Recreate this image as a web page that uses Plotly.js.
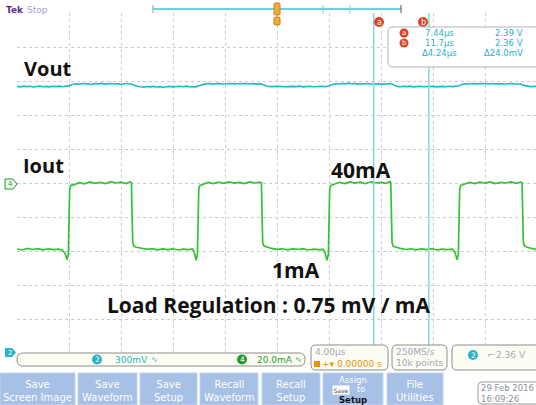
<!DOCTYPE html>
<html><head><meta charset="utf-8">
<script src="https://cdn.plot.ly/plotly-3.0.1.min.js"></script>
<style>html,body{margin:0;padding:0;background:#fff;overflow:hidden}#chart{width:536px;height:405px}</style>
</head><body><div id="chart"></div>
<script>
// ---- Data (read from the scope capture) ----
// Channel 2 : Vout (V), time in microseconds
const voutTime = [
-20,-19.75,-19.5,-19.25,-19,-18.75,-18.5,-18.25,-18,-17.75,-17.5,-17.25,-17,-16.75,-16.5,-16.25,
-16,-15.75,-15.5,-15.25,-15,-14.75,-14.5,-14.25,-14,-13.75,-13.5,-13.25,-13,-12.75,-12.5,-12.25,
-12,-11.75,-11.5,-11.25,-11,-10.75,-10.5,-10.25,-10,-9.75,-9.5,-9.25,-9,-8.75,-8.5,-8.25,
-8,-7.75,-7.5,-7.25,-7,-6.75,-6.5,-6.25,-6,-5.75,-5.5,-5.25,-5,-4.75,-4.5,-4.25,
-4,-3.75,-3.5,-3.25,-3,-2.75,-2.5,-2.25,-2,-1.75,-1.5,-1.25,-1,-0.75,-0.5,-0.25,
0,0.25,0.5,0.75,1,1.25,1.5,1.75,2,2.25,2.5,2.75,3,3.25,3.5,3.75,
4,4.25,4.5,4.75,5,5.25,5.5,5.75,6,6.25,6.5,6.75,7,7.25,7.5,7.75,
8,8.25,8.5,8.75,9,9.25,9.5,9.75,10,10.25,10.5,10.75,11,11.25,11.5,11.75,
12,12.25,12.5,12.75,13,13.25,13.5,13.75,14,14.25,14.5,14.75,15,15.25,15.5,15.75,
16,16.25,16.5,16.75,17,17.25,17.5,17.75,18,18.25,18.5,18.75,19,19.25,19.5,19.75,19.92];
const voutVolts = [
2.361,2.357,2.363,2.359,2.362,2.356,2.360,2.364,2.358,2.361,2.357,2.362,2.359,2.363,2.358,2.362,
2.368,2.378,2.384,2.381,2.387,2.382,2.385,2.380,2.386,2.383,2.388,2.381,2.384,2.386,2.382,2.385,
2.380,2.384,2.387,2.383,2.372,2.362,2.358,2.355,2.360,2.357,2.361,2.356,2.359,2.354,2.358,2.361,
2.357,2.360,2.362,2.358,2.363,2.359,2.361,2.357,2.366,2.377,2.383,2.386,2.381,2.385,2.388,2.382,
2.384,2.380,2.386,2.383,2.385,2.381,2.387,2.384,2.382,2.386,2.383,2.385,2.373,2.363,2.359,2.361,
2.357,2.362,2.358,2.360,2.356,2.361,2.359,2.363,2.357,2.360,2.362,2.358,2.361,2.359,2.362,2.358,
2.365,2.378,2.385,2.382,2.387,2.383,2.390,2.384,2.386,2.381,2.385,2.383,2.387,2.382,2.386,2.384,
2.381,2.385,2.383,2.386,2.371,2.361,2.358,2.362,2.359,2.363,2.357,2.360,2.362,2.358,2.361,2.359,
2.363,2.357,2.360,2.361,2.358,2.362,2.359,2.361,2.367,2.379,2.384,2.382,2.386,2.383,2.385,2.381,
2.387,2.384,2.382,2.386,2.383,2.385,2.380,2.384,2.387,2.383,2.385,2.382,2.370,2.362,2.359,2.361,2.360];
// Channel 4 : Iout (mA)
const ioutTime = [
-20,-19.6,-19.2,-18.8,-18.4,-18,-17.6,-17.2,-16.8,-16.5,-16.3,-16.15,-16.05,-15.95,-15.88,
-15.6,-15.2,-14.8,-14.4,-14,-13.6,-13.2,-12.8,-12.4,-12,-11.6,-11.3,-11.2,-11.1,-11,-10.8,
-10.4,-10,-9.6,-9.2,-8.8,-8.4,-8,-7.6,-7.2,-6.8,-6.5,-6.35,-6.22,-6.12,-6.02,-5.95,
-5.7,-5.3,-4.9,-4.5,-4.1,-3.7,-3.3,-2.9,-2.5,-2.1,-1.7,-1.3,-1.2,-1.1,-1,-0.8,
-0.4,0,0.4,0.8,1.2,1.6,2,2.4,2.8,3.2,3.55,3.7,3.85,3.95,4.05,4.12,
4.4,4.8,5.2,5.6,6,6.4,6.8,7.2,7.6,8,8.4,8.7,8.75,8.85,8.95,9.15,
9.5,9.9,10.3,10.7,11.1,11.5,11.9,12.3,12.7,13.1,13.5,13.7,13.85,13.95,14.05,14.12,
14.4,14.8,15.2,15.6,16,16.4,16.8,17.2,17.6,18,18.4,18.75,18.85,18.95,19.05,19.25,19.6,19.92];
const ioutMilliamps = [
1.2,0.6,1.5,0.9,1.4,0.7,1.3,0.8,1.1,0.5,-1.5,-5.0,-2.0,36,38.5,
39.0,40.2,39.5,40.6,39.8,40.4,39.6,40.8,40.0,40.5,39.7,40.6,40.2,5,2.8,2.2,
1.6,1.0,1.4,0.7,1.2,0.8,1.3,0.6,1.1,0.8,1.2,-1.0,-5.5,-2.0,36,38.5,
39.2,40.3,39.6,40.5,39.8,40.7,39.9,40.4,39.7,40.6,40.0,40.5,40.1,5,2.9,2.3,
1.5,1.0,1.3,0.7,1.2,0.9,1.4,0.6,1.1,0.8,1.0,-1.2,-5.5,-2.0,36,38.5,
39.3,40.4,39.7,40.6,39.9,40.5,39.6,40.7,40.0,40.4,39.8,40.8,40.3,5,2.8,2.2,
1.5,0.9,1.3,0.7,1.2,0.8,1.4,0.6,1.1,0.8,1.1,-1.0,-5.2,-2.0,36,38.5,
39.2,40.3,39.6,40.5,39.9,40.6,39.7,40.4,40.0,40.6,39.8,40.5,40.1,5,2.9,2.2,1.5,1.0];
// Cursors a / b (time, us) and their readouts
const cursorNames = ['a','b'];
const cursorTimes = [7.44, 11.68];
const cursorTimeText = ['7.44µs','11.7µs','Δ4.24µs'];
const cursorVoltText = ['2.39 V','2.36 V','Δ24.0mV'];
const buttonLabels = ['Save<br>Screen Image','Save<br>Waveform','Save<br>Setup','Recall<br>Waveform','Recall<br>Setup','','File<br>Utilities'];

// ---- Geometry ----
const W=536,H=405,L=17,R=0,T=13,B=52;
const PW=W-L-R, PH=H-T-B;
const X = p => (p-L)/PW;
const Y = p => (H-B-p)/PH;
const pxPerUs = 13;

const CY='#27b4c8', GR='#33c233', GRT='#1f9e1f', GRID='#c5cdd8', UIG='#9ea7ba', OR='#e8900c', RED='#e0401e', BTN='#a6c0e6';

const shapes=[], ann=[];
function rrect(x0,y0,x1,y1,r,fill,line,lw){
  const P=(x,y)=>X(x)+','+Y(y);
  const d='M'+P(x0+r,y0)+' L'+P(x1-r,y0)+' Q'+P(x1,y0)+' '+P(x1,y0+r)+' L'+P(x1,y1-r)+' Q'+P(x1,y1)+' '+P(x1-r,y1)+
    ' L'+P(x0+r,y1)+' Q'+P(x0,y1)+' '+P(x0,y1-r)+' L'+P(x0,y0+r)+' Q'+P(x0,y0)+' '+P(x0+r,y0)+' Z';
  shapes.push({type:'path',xref:'paper',yref:'paper',path:d,fillcolor:fill,line:{color:line||'rgba(0,0,0,0)',width:lw==null?1:lw}});
}
function poly(pts,fill,line){
  const d='M'+pts.map(p=>X(p[0])+','+Y(p[1])).join(' L')+' Z';
  shapes.push({type:'path',xref:'paper',yref:'paper',path:d,fillcolor:fill,line:{color:line||'rgba(0,0,0,0)',width:1}});
}
function pline(x0,y0,x1,y1,color,w){
  shapes.push({type:'line',xref:'paper',yref:'paper',x0:X(x0),y0:Y(y0),x1:X(x1),y1:Y(y1),line:{color:color,width:w||1}});
}
function circ(cx,cy,r,fill){
  shapes.push({type:'circle',xref:'paper',yref:'paper',x0:X(cx-r),x1:X(cx+r),y0:Y(cy+r),y1:Y(cy-r),fillcolor:fill,line:{width:0}});
}
function txt(x,y,text,size,color,xa,family,extra){
  ann.push(Object.assign({xref:'paper',yref:'paper',x:X(x),y:Y(y),text:text,showarrow:false,xanchor:xa||'left',yanchor:'middle',
    borderpad:0,font:{family:family||'DejaVu Sans',size:size,color:color}},extra||{}));
}

// cursors (lines in data coordinates)
cursorTimes.forEach(t=>shapes.push({type:'line',xref:'x',yref:'paper',x0:t,x1:t,y0:0,y1:1,line:{color:'#8ad6e2',width:1.5}}));

// top bar
txt(5,10,'<b>Tek</b>',9,'#5b2a86');
txt(26,10,'Stop',9,'#a59bd1');
pline(153,9,401,9,'#6fd3df',2);
pline(153,5,153,13,'#999',1);
pline(401,5,401,13,'#555',1);
pline(323,5,323,14,'#6fd3df',1);
pline(350,5,350,14,'#6fd3df',1);
rrect(274,3,280,15,1.5,'#f2aa3a','#c9760c',1);
rrect(274,17,280,25,1.5,'#f2aa3a','#c9760c',1);

// cursor a/b badges on graticule
circ(379,22,5,RED); txt(379,22,'a',8,'#fff','center');
circ(423,22,5,RED); txt(423,22,'b',8,'#fff','center');

// readout box
rrect(388,27,545,67,5,'#ffffff','#b4b4b4',1);
circ(404,33,4.5,RED); txt(404,33,'a',7,'#fff','center');
circ(404,43,4.5,RED); txt(404,43,'b',7,'#fff','center');
[33,43,53].forEach((yy,i)=>{
  txt(439,yy,cursorTimeText[i],8.5,CY,'center');
  txt(524,yy,cursorVoltText[i],8.5,CY,'right');
});

// big labels
const BF='Open Sans';
txt(23,68,'<b>Vout</b>',20,'#111','left',BF);
txt(22,166,'<b>Iout</b>',20,'#111','left',BF);
txt(330,170,'<b>40mA</b>',21,'#111','left',BF);
txt(271,270,'<b>1mA</b>',21,'#111','left',BF);
txt(106,305,'<b>Load Regulation : 0.75 mV / mA</b>',21,'#111','left',BF);

// channel markers
poly([[5,179],[13,179],[17,184],[13,189],[5,189]],'#eef8ee',GRT);
txt(10,184,'4',7,GRT,'center');
poly([[5,348],[12,348],[16,352.5],[12,357],[5,357]],CY);
txt(9.5,352.5,'2',7,'#fff','center');

// bottom readout strip
rrect(17,353,305,366,6,'#fdfdf4','#8c8c8c',1);
circ(97,359.5,5,CY); txt(97,359.5,'2',7.5,'#fff','center');
txt(114,359.5,'300mV',9,CY);
txt(150,359.5,'∿',8,CY);
circ(242,359.5,5,'#1e9a2a'); txt(242,359.5,'4',7.5,'#fff','center');
txt(256,359.5,'20.0mA',9,GRT);
txt(294,359.5,'∿',8,GRT);

rrect(311,345,388,370,5,'#fdfdf4','#8c8c8c',1);
txt(314,352,'4.00µs',9,UIG);
shapes.push({type:'rect',xref:'paper',yref:'paper',x0:X(314),x1:X(320),y0:Y(367),y1:Y(361),fillcolor:OR,line:{width:0}});
txt(321,364,'+▾ 0.00000 s',9,OR);

rrect(392,345,447,370,5,'#fdfdf4','#8c8c8c',1);
txt(395,352,'250MS/s',9,UIG);
txt(395,363,'10k points',9,UIG);

rrect(452,345,545,370,5,'#fdfdf4','#8c8c8c',1);
circ(473,355,5,CY); txt(473,355,'2',7.5,'#fff','center');
txt(486,355,'⌐',9,UIG);
txt(527,355,'2.36 V',9,UIG,'right');

// buttons
const btnX=[[0,75],[78,137],[140,197],[200,258],[262,320],[323,383],[387,443]];
btnX.forEach((b,i)=>{
  shapes.push({type:'rect',xref:'paper',yref:'paper',x0:X(b[0]),x1:X(b[1]),y0:Y(405),y1:Y(373),fillcolor:BTN,line:{color:'#c2d4ee',width:1}});
  if(buttonLabels[i]) txt((b[0]+b[1])/2,391,buttonLabels[i],10,'#ffffff','center','DejaVu Sans',{align:'center'});
});
txt(353,379.5,'Assign',8.5,'#ffffff','center');
txt(341,389.5,'Save',6,'#444','center','DejaVu Sans',{bgcolor:'#ffffff',borderpad:0.5});
txt(361,389.5,'to',8,'#ffffff','center');
txt(353,399.8,'<b>Setup</b>',8.5,'#111','center');

// date box
rrect(478,382,545,404,4,'#ffffff','#9a9a9a',1);
txt(480,388,'29 Feb 2016',8.5,'#8b8fa0');
txt(480,399,'16:09:26',8.5,'#8b8fa0');

const traces=[
  {x:voutTime,y:voutVolts,yaxis:'y2',type:'scatter',mode:'lines',line:{color:'#22b6ca',width:1.6},hoverinfo:'skip'},
  {x:ioutTime,y:ioutMilliamps,type:'scatter',mode:'lines',line:{color:GR,width:1.7},hoverinfo:'skip'}
];
const axBase={showticklabels:false,zeroline:false,showline:false,ticks:'',showgrid:true,gridcolor:GRID,griddash:'dot',gridwidth:1,fixedrange:true};
const layout={
  width:W,height:H,margin:{l:L,r:R,t:T,b:B,pad:0},
  paper_bgcolor:'#ffffff',plot_bgcolor:'#ffffff',showlegend:false,hovermode:false,
  xaxis:Object.assign({},axBase,{range:[-20,-20+PW/pxPerUs],tick0:-20,dtick:4}),
  yaxis:Object.assign({},axBase,{range:[-60,140],tick0:-60,dtick:20}),
  yaxis2:{overlaying:'y',range:[0.0087,3.0087],showgrid:false,showticklabels:false,zeroline:false,showline:false,ticks:'',fixedrange:true},
  shapes:shapes,annotations:ann
};
Plotly.newPlot('chart',traces,layout,{staticPlot:true,displayModeBar:false});
</script></body></html>
